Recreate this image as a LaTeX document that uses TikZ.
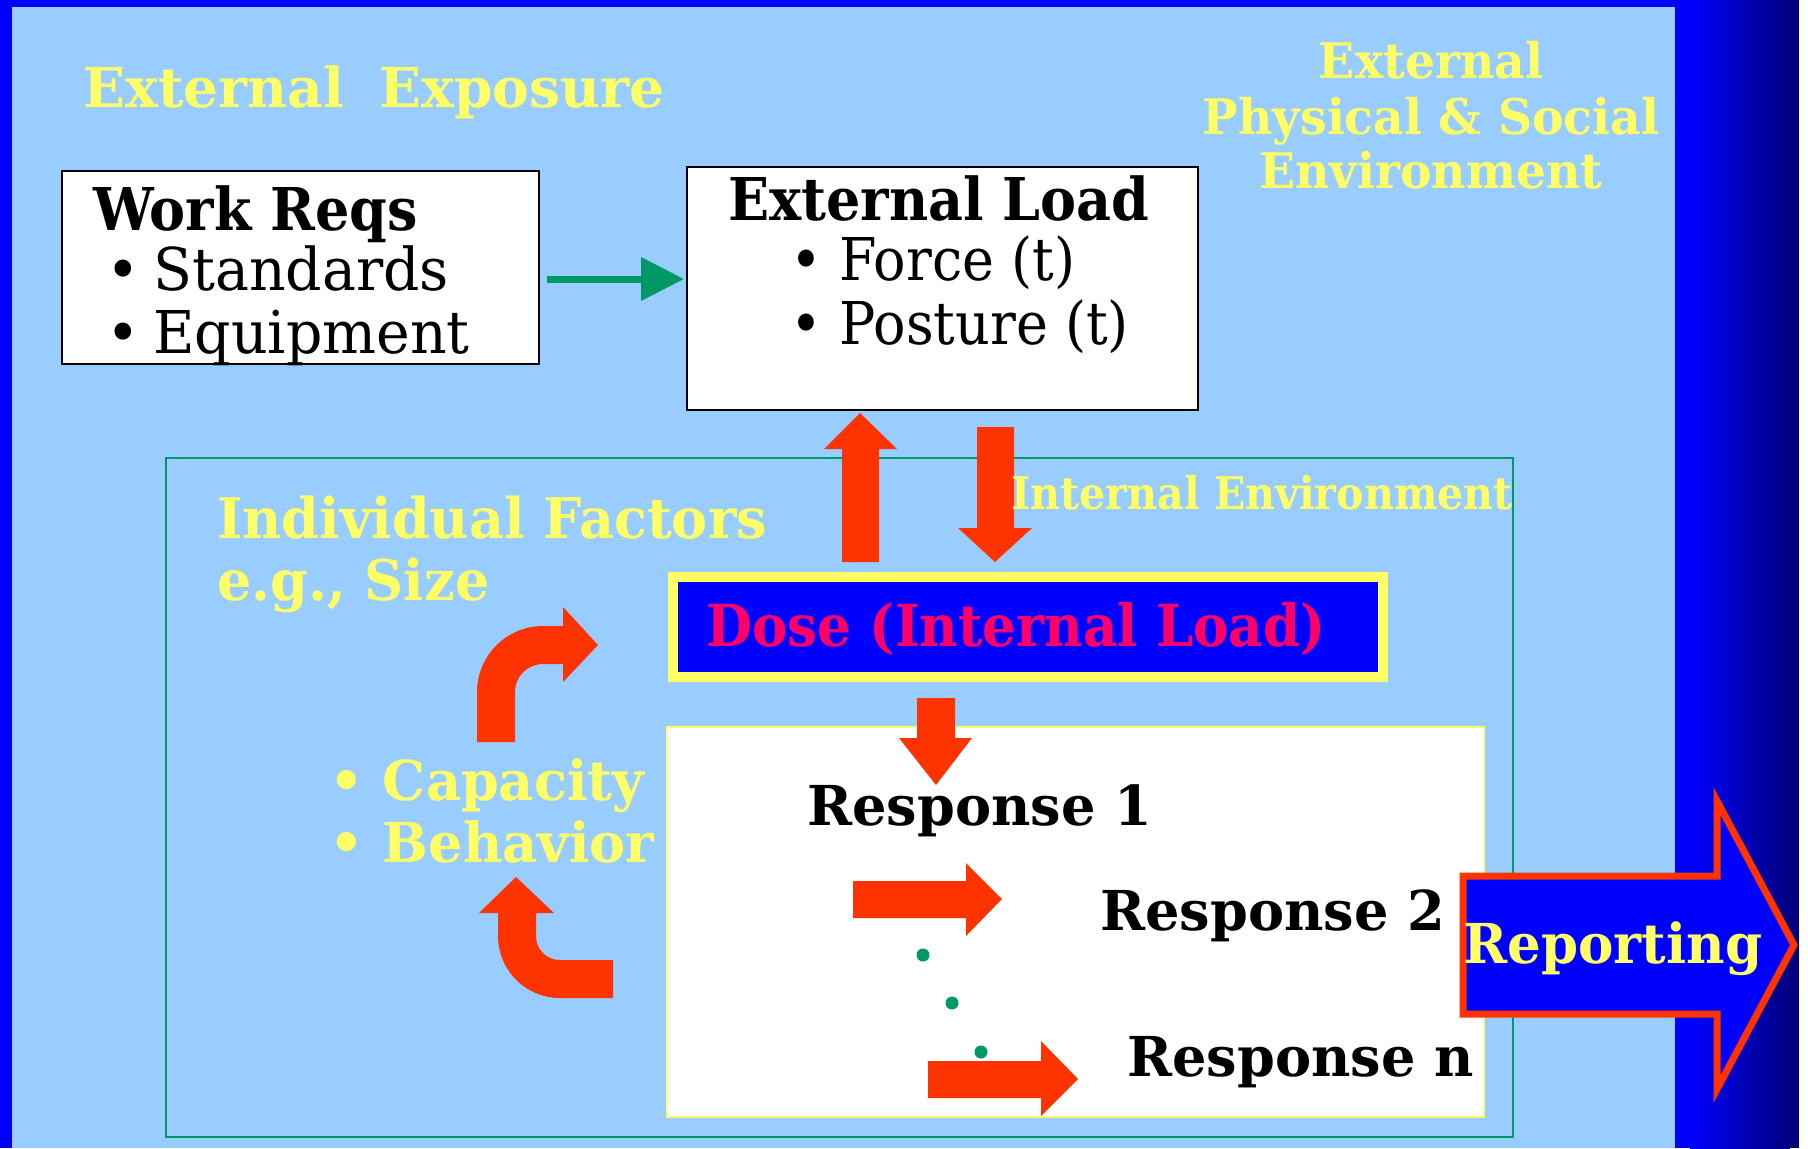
\documentclass[tikz,border=0pt]{standalone}
\usepackage{fontspec}
\setmainfont{DejaVu Serif}
\newfontfamily\narrowA{DejaVu Serif}[FakeStretch=0.915]
\newfontfamily\narrowB{DejaVu Serif}[FakeStretch=0.965]
\newfontfamily\narrowC{DejaVu Serif}[FakeStretch=0.985]
\usetikzlibrary{arrows.meta}
\definecolor{panel}{HTML}{99CCFF}
\definecolor{ylw}{HTML}{FFFF66}
\definecolor{rd}{HTML}{FF3300}
\definecolor{grn}{HTML}{009966}
\definecolor{bl}{HTML}{0000FF}
\definecolor{nav}{HTML}{000080}
\definecolor{dosec}{HTML}{FF0066}
\begin{document}
\begin{tikzpicture}[x=0.5pt,y=-0.5pt,
  t/.style={inner sep=0pt, anchor=base west},
  tc/.style={inner sep=0pt, anchor=base},
  f/.style={font=\fontsize{#1}{#1}\selectfont},
  fb/.style={font=\fontsize{#1}{#1}\selectfont\bfseries},
  fA/.style={font=\narrowA\fontsize{#1}{#1}\selectfont},
  fAb/.style={font=\narrowA\fontsize{#1}{#1}\selectfont\bfseries},
  fB/.style={font=\narrowB\fontsize{#1}{#1}\selectfont},
  fBb/.style={font=\narrowB\fontsize{#1}{#1}\selectfont\bfseries},
  fCb/.style={font=\narrowC\fontsize{#1}{#1}\selectfont\bfseries},
  whitebox/.style={draw=black, fill=white, line width=1pt, inner sep=0pt, anchor=north west},
  redarrow/.style={fill=rd, draw=none},
  bentarrow/.style={draw=rd, line width=19pt, line cap=butt},
  dot/.style={circle, fill=grn, inner sep=0pt, minimum size=6.5pt}
]
\useasboundingbox (0,0) rectangle (1808,1148);
% background
\fill[bl] (0,0) rectangle (1808,1148);
\shade[left color=bl, right color=nav] (1690,0) rectangle (1790,1148);
\fill[nav] (1790,0) rectangle (1799,1148);
\fill[white] (1799,0) rectangle (1808,1148);
\fill[panel] (12,7) rectangle (1675,1148);

% titles
\node[t, fb=27.5, ylw] (extexp) at (83,107) {External\hspace{0.65em}Exposure};
\node[tc, fBb=24.5, ylw] (env1) at (1431,78) {External};
\node[tc, fBb=24.5, ylw] (env2) at (1431,134) {Physical \& Social};
\node[tc, fBb=24.5, ylw] (env3) at (1431,188) {Environment};

% work reqs box
\node[whitebox, minimum width=238.5pt, minimum height=96.5pt] (wr) at (61,170) {};
\node[t, fAb=29.5] (wrt) at (93,230) {Work Reqs};
\node[t, fB=29.5] (wr1) at (106,290) {•\hspace{-0.08em} Standards};
\node[t, fB=29.5] (wr2) at (106,353) {•\hspace{-0.08em} Equipment};

% external load box
\node[whitebox, minimum width=255.5pt, minimum height=121.5pt] (el) at (686,166) {};
\node[tc, fAb=29.5] (elt) at (939,220) {External Load};
\node[t, fA=29.5] (el1) at (790,280) {• Force (t)};
\node[t, fA=29.5] (el2) at (790,344) {• Posture (t)};

% green arrow
\draw[grn, line width=3.5pt, shorten <=3.5pt, shorten >=1pt, -{Triangle[length=21.5pt,width=21pt]}] ([yshift=-5.75pt]wr.east) -- ([yshift=4.75pt]el.west);

% internal environment frame
\node[draw=grn, line width=1pt, inner sep=0pt, anchor=north west, minimum width=673.5pt, minimum height=339.5pt] (ie) at (165,457) {};

% red arrows between external load and dose
\fill[redarrow] (842,562) -- (842,449) -- (824,449) -- (860,413) -- (897,449) -- (879,449) -- (879,562) -- cycle;
\fill[redarrow] (977,427) -- (1014,427) -- (1014,528) -- (1032,528) -- (995,562) -- (958,528) -- (977,528) -- cycle;

\node[t, fAb=22.5, ylw] (iet) at (1011,509) {Internal Environment};

% dose box
\node[draw=ylw, fill=bl, line width=5pt, inner sep=0pt, anchor=north west, minimum width=355pt, minimum height=50pt] (dose) at (668,572) {};
\node[t, fAb=29, dosec] (doset) at (706,646) {Dose (Internal Load)};

% individual factors
\node[t, fBb=28, ylw] (if1) at (217,538) {Individual Factors};
\node[t, fBb=28, ylw] (if2) at (217,600) {e.g., Size};
\node[t, fCb=27.5, ylw] (cap) at (329,800) {• Capacity};
\node[t, fCb=27.5, ylw] (beh) at (329,862) {• Behavior};

% bent arrows
\draw[bentarrow] (496,742) -- (496,692) arc[start angle=180, end angle=90, radius=23.5pt] -- (564,645);
\fill[redarrow] (563,607) -- (598,645) -- (563,682) -- cycle;
\draw[bentarrow] (613,979) -- (560,979) arc[start angle=270, end angle=180, radius=21.5pt] -- (517,912);
\fill[redarrow] (479,913) -- (516,877) -- (554,913) -- cycle;

% response box
\node[draw=ylw, fill=white, line width=1pt, inner sep=0pt, anchor=north west, minimum width=408.5pt, minimum height=195pt] (resp) at (666,726) {};
\fill[redarrow] (917,698) -- (955,698) -- (955,738) -- (972,738) -- (936,785) -- (899,738) -- (917,738) -- cycle;
\node[t, fCb=27.5] (r1) at (807,825) {Response 1};
\fill[redarrow] (853,881) -- (966,881) -- (966,863) -- (1002,899) -- (966,936) -- (966,918) -- (853,918) -- cycle;
\node[t, fCb=27.5] (r2) at (1100,930) {Response 2};
\node[dot] (d1) at (923,955) {};
\node[dot] (d2) at (952,1003) {};
\node[dot] (d3) at (981,1052) {};
\fill[redarrow] (928,1061) -- (1041,1061) -- (1041,1041) -- (1078,1079) -- (1041,1116) -- (1041,1098) -- (928,1098) -- cycle;
\node[t, fCb=27.5] (rn) at (1127,1076) {Response n};

% reporting arrow
\draw[rd, fill=bl, line width=3.5pt, miter limit=10] (1463,876) -- (1717,876) -- (1717,801) -- (1794,945) -- (1717,1089) -- (1717,1014) -- (1463,1014) -- cycle;
\node[t, fBb=27.5, ylw] (rep) at (1463,963) {Reporting};
\end{tikzpicture}
\end{document}
